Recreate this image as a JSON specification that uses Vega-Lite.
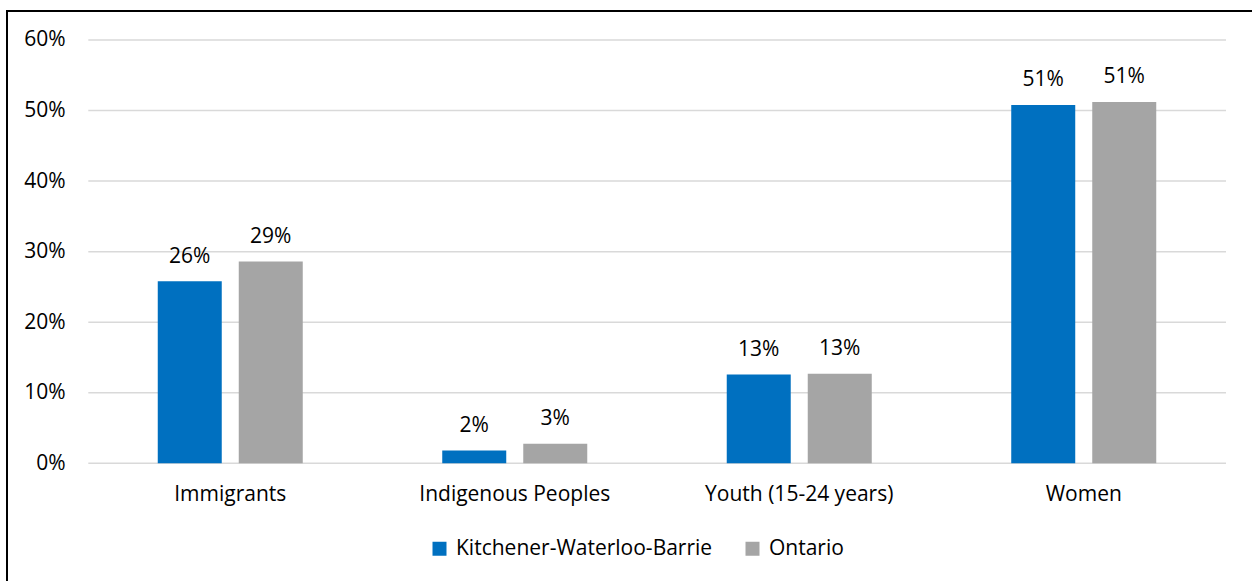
{
  "$schema": "https://vega.github.io/schema/vega-lite/v6.json",
  "width": 1300,
  "height": 600,
  "autosize": {"type": "none"},
  "padding": {"left": 7, "top": 11, "right": -55, "bottom": -30},
  "background": "white",
  "config": {
    "view": {"stroke": "#000000", "strokeWidth": 2},
    "font": "Open Sans",
    "legend": {
      "orient": "none",
      "legendX": 422,
      "legendY": 527,
      "direction": "horizontal",
      "symbolType": "square",
      "symbolSize": 196,
      "symbolStrokeWidth": 0,
      "labelFontSize": 21,
      "labelFont": "Open Sans",
      "labelColor": "#000000",
      "labelOffset": 6,
      "labelLimit": 0,
      "columnPadding": 29,
      "title": null
    }
  },
  "datasets": {
    "bars": [
      {"cat": "Immigrants", "series": "Kitchener-Waterloo-Barrie", "value": 0.258},
      {"cat": "Immigrants", "series": "Ontario", "value": 0.286},
      {"cat": "Indigenous Peoples", "series": "Kitchener-Waterloo-Barrie", "value": 0.018},
      {"cat": "Indigenous Peoples", "series": "Ontario", "value": 0.0275},
      {"cat": "Youth (15-24 years)", "series": "Kitchener-Waterloo-Barrie", "value": 0.126},
      {"cat": "Youth (15-24 years)", "series": "Ontario", "value": 0.127},
      {"cat": "Women", "series": "Kitchener-Waterloo-Barrie", "value": 0.508},
      {"cat": "Women", "series": "Ontario", "value": 0.512}
    ],
    "ticks": [{"t": 0}, {"t": 0.1}, {"t": 0.2}, {"t": 0.3}, {"t": 0.4}, {"t": 0.5}, {"t": 0.6}]
  },
  "layer": [
    {
      "data": {"name": "ticks"},
      "mark": {"type": "rule", "color": "#D9D9D9", "strokeWidth": 1.5},
      "encoding": {
        "y": {"field": "t", "type": "quantitative"},
        "x": {"datum": "Immigrants", "type": "nominal", "bandPosition": -0.479},
        "x2": {"datum": "Women", "bandPosition": 1.481}
      }
    },
    {
      "data": {"name": "bars"},
      "mark": {"type": "bar"},
      "encoding": {
        "x": {
          "field": "cat",
          "type": "nominal",
          "sort": ["Immigrants", "Indigenous Peoples", "Youth (15-24 years)", "Women"],
          "scale": {"domain": ["Immigrants", "Indigenous Peoples", "Youth (15-24 years)", "Women"], "paddingInner": 0.4903, "paddingOuter": 0.5299},
          "axis": {
            "title": null,
            "orient": "bottom",
            "offset": -147.7,
            "bandPosition": 0.5,
            "labelAngle": 0,
            "labelAlign": "center",
            "labelLimit": 0,
            "labelPadding": 31,
            "labelFontSize": 21,
            "labelFont": "Open Sans",
            "labelColor": "#000000",
            "domain": false,
            "ticks": false,
            "grid": false
          }
        },
        "xOffset": {
          "field": "series",
          "type": "nominal",
          "scale": {"domain": ["Kitchener-Waterloo-Barrie", "Ontario"], "paddingInner": 0.21, "paddingOuter": 0}
        },
        "y": {
          "field": "value",
          "type": "quantitative",
          "scale": {"domain": [-0.2094, 0.6411], "nice": false},
          "axis": {
            "title": null,
            "orient": "left",
            "offset": -81,
            "values": [0, 0.1, 0.2, 0.3, 0.4, 0.5, 0.6],
            "format": ".0%",
            "labelPadding": 23,
            "labelFontSize": 21,
            "labelFont": "Open Sans",
            "labelColor": "#000000",
            "domain": false,
            "ticks": false,
            "grid": false
          }
        },
        "y2": {"datum": 0},
        "color": {
          "field": "series",
          "type": "nominal",
          "scale": {"domain": ["Kitchener-Waterloo-Barrie", "Ontario"], "range": ["#0070C0", "#A5A5A5"]},
          "legend": {"title": null}
        }
      }
    },
    {
      "data": {"name": "bars"},
      "mark": {"type": "text", "dy": -18.6, "baseline": "alphabetic", "fontSize": 21, "font": "Open Sans", "color": "#000000"},
      "encoding": {
        "x": {"field": "cat", "type": "nominal"},
        "xOffset": {"field": "series", "type": "nominal"},
        "y": {"field": "value", "type": "quantitative"},
        "text": {"field": "value", "type": "quantitative", "format": ".0%"}
      }
    }
  ]
}
